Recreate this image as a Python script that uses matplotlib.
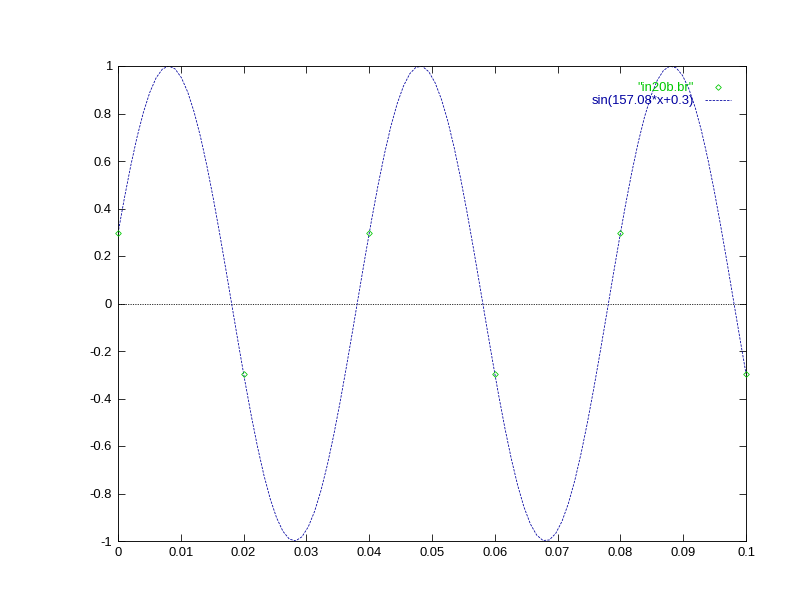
import numpy as np
import matplotlib
matplotlib.use("Agg")
import matplotlib.pyplot as plt

# data points from file "in20b.br"
data_x = [0.0, 0.02, 0.04, 0.06, 0.08, 0.1]
data_y = [0.2955, -0.2955, 0.2955, -0.2955, 0.2955, -0.2955]

# fitted function sin(157.08*x+0.3)
freq = 157.08
phase = 0.3
fx = np.linspace(0.0, 0.1, 100)
fy = np.sin(freq * fx + phase)

xticks = [0, 0.01, 0.02, 0.03, 0.04, 0.05, 0.06, 0.07, 0.08, 0.09, 0.1]
xticklabels = ["0", "0.01", "0.02", "0.03", "0.04", "0.05", "0.06", "0.07", "0.08", "0.09", "0.1"]
yticks = [-1, -0.8, -0.6, -0.4, -0.2, 0, 0.2, 0.4, 0.6, 0.8, 1]
yticklabels = ["-1", "-0.8", "-0.6", "-0.4", "-0.2", "0", "0.2", "0.4", "0.6", "0.8", "1"]

plt.rcParams['font.family'] = ['Liberation Sans', 'DejaVu Sans']
fig = plt.figure(figsize=(11, 8.5), dpi=72)
ax = fig.add_axes([118/792, 1-541/612, (746-118)/792, (541-66)/612])

green = '#00c800'
blue = '#0000a0'

ax.axhline(0, color='black', lw=0.8, ls=(0, (1.5, 1.5)), zorder=1)
ax.plot(data_x, data_y, ls='none', color=green, marker='D', ms=4, mfc='none', mec=green, mew=0.8,
        label='"in20b.br"', clip_on=False, zorder=3)
ax.plot(fx, fy, color=blue, lw=0.8, ls=(0, (3, 1.5)), label='sin(157.08*x+0.3)', zorder=2)

ax.set_xlim(0, 0.1)
ax.set_ylim(-1, 1)
ax.set_xticks(xticks)
ax.set_xticklabels(xticklabels)
ax.set_yticks(yticks)
ax.set_yticklabels(yticklabels)
ax.tick_params(direction='in', top=True, right=True, length=7, width=0.8, labelsize=13, pad=6)
for s in ax.spines.values():
    s.set_linewidth(0.9)

ax.legend(loc='upper right', frameon=False, markerfirst=False, labelcolor='linecolor',
          fontsize=13, handlelength=2.0, handletextpad=0.8, borderaxespad=0.3,
          labelspacing=0.05, bbox_to_anchor=(0.99, 0.985))

fig.savefig('out.png', dpi=72)
